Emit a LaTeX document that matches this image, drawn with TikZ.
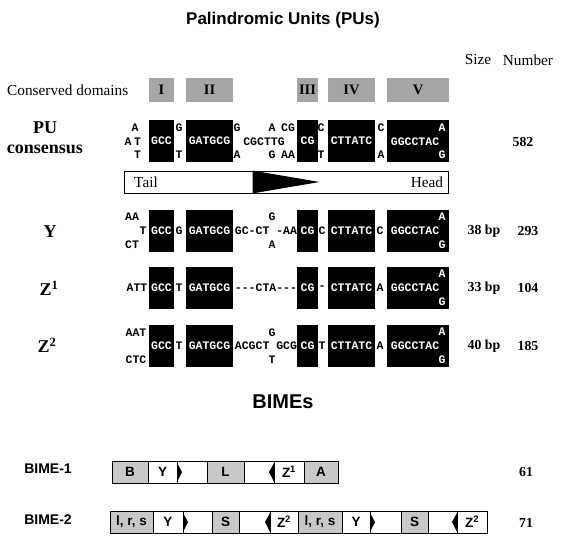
\documentclass[tikz,border=0pt]{standalone}
\usepackage{fontspec}
\setmainfont{Liberation Serif}
\setsansfont{Liberation Sans}
\setmonofont{Liberation Mono}
\usetikzlibrary{positioning}
\definecolor{DomainClr}{RGB}{165,165,165}
\definecolor{BimeClr}{RGB}{200,200,200}
\tikzset{
  seqbox/.style={fill=black, inner sep=0pt, minimum height=42pt, text=white,
    font=\ttfamily\bfseries\fontsize{11.5}{12}\selectfont},
  nt/.style={inner sep=0pt, font=\ttfamily\bfseries\fontsize{11.5}{12}\selectfont},
  ntw/.style={nt, text=white},
  domainbox/.style={fill=DomainClr, inner sep=0pt, minimum height=24pt,
    font=\bfseries\fontsize{14.5}{15}\selectfont},
  rowlabel/.style={inner sep=0pt, font=\bfseries\fontsize{18}{19}\selectfont},
  count/.style={inner sep=0pt, font=\bfseries\fontsize{13.8}{14}\selectfont},
  header/.style={inner sep=0pt, font=\fontsize{15.3}{16}\selectfont},
  heading/.style={inner sep=0pt, font=\sffamily\bfseries\fontsize{17}{18}\selectfont},
  bimelabel/.style={inner sep=0pt, font=\sffamily\bfseries\fontsize{14}{15}\selectfont},
  seg/.style={draw=black, line width=0.9pt, inner sep=0pt, outer sep=0pt,
    minimum height=22pt, font=\sffamily\bfseries\fontsize{13.5}{14}\selectfont},
  grayseg/.style={seg, fill=BimeClr},
  whiteseg/.style={seg, fill=white}
}

\begin{document}
\begin{tikzpicture}[x=1pt,y=-1pt]
\useasboundingbox[fill=white] (0,0) rectangle (562,548);

\node[heading] (title) at (283,20) {Palindromic Units (PUs)};
\node[header] (size) at (478,60) {Size};
\node[header] (number) at (528,60) {Number};

% conserved domains
\node[header, anchor=west] (cons) at (7,90) {Conserved domains};
\node[domainbox, minimum width=25pt] (dI) at (161.5,90) {I};
\node[domainbox, minimum width=47pt] (dII) at (209.5,90) {II};
\node[domainbox, minimum width=21pt] (dIII) at (307.5,90) {III};
\node[domainbox, minimum width=47pt] (dIV) at (351.5,90) {IV};
\node[domainbox, minimum width=62pt] (dV) at (418,90) {V};

% PU consensus
\node[rowlabel] (puA) at (45,128) {PU};
\node[rowlabel] (puB) at (45,149) {consensus};
\node[seqbox, minimum width=25pt] (pu1) at (161.5,141) {GCC};
\node[seqbox, minimum width=47pt] (pu2) at (209.5,141) {GATGCG};
\node[seqbox, minimum width=21pt] (pu3) at (307.5,141) {CG};
\node[seqbox, minimum width=47pt] (pu4) at (351.5,141) {CTTATC};
\node[seqbox, minimum width=62pt] (pu5) at (418,141) {};
\node[nt] (puT1) at (135,128) {A};
\node[nt] (puM1) at (128,142) {A};
\node[nt] (puM2) at (137.5,142) {T};
\node[nt] (puB1) at (137.5,155) {T};
\node[nt] (puT2) at (179,128) {G};
\node[nt] (puB2) at (179,155) {T};
\node[nt] (puT3) at (237,128) {G};
\node[nt] (puM3) at (264,142) {CGCTTG};
\node[nt] (puB3) at (237,155) {A};
\node[nt] (puT4) at (272,128) {A};
\node[nt] (puT5) at (288,128) {CG};
\node[nt] (puB4) at (272,155) {G};
\node[nt] (puB5) at (288,155) {AA};
\node[nt] (puT6) at (321,128) {C};
\node[nt] (puB6) at (321,155) {T};
\node[nt] (puT7) at (381,128) {C};
\node[nt] (puB7) at (381,155) {A};
\node[ntw] (puT8) at (442,128) {A};
\node[ntw] (puM8) at (415,142) {GGCCTAC};
\node[ntw] (puB8) at (442,155) {G};
\node[count] (puN) at (523,142) {582};

% tail / head bar
\node[draw=black, line width=0.8pt, minimum width=324pt, minimum height=22pt,
  inner sep=0pt] (bar) at (286,182) {};
\fill ([xshift=129pt]bar.north west) -- ([xshift=129pt]bar.south west)
  -- ([xshift=196pt]bar.west) -- cycle;
\node[header] (tail) at (146,182) {Tail};
\node[header] (head) at (427,182) {Head};

% Y
\node[rowlabel] (yL) at (50,232) {Y};
\node[seqbox, minimum width=25pt] (y1) at (161.5,231) {GCC};
\node[seqbox, minimum width=47pt] (y2) at (209.5,231) {GATGCG};
\node[seqbox, minimum width=21pt] (y3) at (307.5,231) {CG};
\node[seqbox, minimum width=47pt] (y4) at (351.5,231) {CTTATC};
\node[seqbox, minimum width=62pt] (y5) at (418,231) {};
\node[nt] (yT1) at (132,217) {AA};
\node[nt] (yM1) at (143,231) {T};
\node[nt] (yB1) at (132,245) {CT};
\node[nt] (yM2) at (179,231) {G};
\node[nt] (yT3) at (272,217) {G};
\node[nt] (yM3) at (266,231) {GC-CT -AA};
\node[nt] (yB3) at (272,245) {A};
\node[nt] (yM4) at (322,231) {C};
\node[nt] (yM5) at (380,231) {C};
\node[ntw] (yT6) at (442,217) {A};
\node[ntw] (yM6) at (415,231) {GGCCTAC};
\node[ntw] (yB6) at (442,245) {G};
\node[count] (yS) at (484,231) {38 bp};
\node[count] (yN) at (528,231) {293};

% Z1
\node[rowlabel] (zaL) at (49,288) {Z\textsuperscript{1}};
\node[seqbox, minimum width=25pt] (za1) at (161.5,288) {GCC};
\node[seqbox, minimum width=47pt] (za2) at (209.5,288) {GATGCG};
\node[seqbox, minimum width=21pt] (za3) at (307.5,288) {CG};
\node[seqbox, minimum width=47pt] (za4) at (351.5,288) {CTTATC};
\node[seqbox, minimum width=62pt] (za5) at (418,288) {};
\node[nt] (zaM1) at (137,288) {ATT};
\node[nt] (zaM2) at (179,288) {T};
\node[nt] (zaM3) at (266,288) {---CTA---};
\node[nt] (zaM4) at (322,288) {-};
\node[nt] (zaM5) at (380,288) {A};
\node[ntw] (zaT6) at (442,274) {A};
\node[ntw] (zaM6) at (415,288) {GGCCTAC};
\node[ntw] (zaB6) at (442,302) {G};
\node[count] (zaS) at (484,288) {33 bp};
\node[count] (zaN) at (528,288) {104};

% Z2
\node[rowlabel] (zbL) at (47,345) {Z\textsuperscript{2}};
\node[seqbox, minimum width=25pt] (zb1) at (161.5,346) {GCC};
\node[seqbox, minimum width=47pt] (zb2) at (209.5,346) {GATGCG};
\node[seqbox, minimum width=21pt] (zb3) at (307.5,346) {CG};
\node[seqbox, minimum width=47pt] (zb4) at (351.5,346) {CTTATC};
\node[seqbox, minimum width=62pt] (zb5) at (418,346) {};
\node[nt] (zbT1) at (136,333) {AAT};
\node[nt] (zbB1) at (136,360) {CTC};
\node[nt] (zbM2) at (179,346) {T};
\node[nt] (zbT3) at (272,333) {G};
\node[nt] (zbM3) at (266,346) {ACGCT GCG};
\node[nt] (zbB3) at (272,360) {T};
\node[nt] (zbM4) at (322,346) {T};
\node[nt] (zbM5) at (380,346) {A};
\node[ntw] (zbT6) at (442,332) {A};
\node[ntw] (zbM6) at (415,346) {GGCCTAC};
\node[ntw] (zbB6) at (442,360) {G};
\node[count] (zbS) at (484,346) {40 bp};
\node[count] (zbN) at (528,346) {185};

% BIMEs
\node[heading, font=\sffamily\bfseries\fontsize{20}{21}\selectfont] (bimes) at (283,402) {BIMEs};

% BIME-1
\node[bimelabel] (b1L) at (48,469) {BIME-1};
\node[grayseg, minimum width=36pt, anchor=west] (b1a) at (112,472) {B};
\node[whiteseg, minimum width=29pt, right=0pt of b1a] (b1b) {Y};
\node[whiteseg, minimum width=30pt, right=0pt of b1b] (b1c) {};
\node[grayseg, minimum width=37pt, right=0pt of b1c] (b1d) {L};
\node[whiteseg, minimum width=30pt, right=0pt of b1d] (b1e) {};
\node[whiteseg, minimum width=30pt, right=0pt of b1e] (b1f) {Z\textsuperscript{1}};
\node[grayseg, minimum width=34pt, right=0pt of b1f] (b1g) {A};
\fill ([yshift=-2pt]b1b.north east) -- ([yshift=1pt]b1b.south east)
  -- ([xshift=5pt]b1b.east) -- cycle;
\fill ([yshift=-2pt]b1f.north west) -- ([yshift=1pt]b1f.south west)
  -- ([xshift=-5pt]b1f.west) -- cycle;
\node[count] (b1N) at (526,472) {61};

% BIME-2
\node[bimelabel] (b2L) at (48,520) {BIME-2};
\node[grayseg, minimum width=43pt, anchor=west] (b2a) at (110,522) {l, r, s};
\node[whiteseg, minimum width=30pt, right=0pt of b2a] (b2b) {Y};
\node[whiteseg, minimum width=29pt, right=0pt of b2b] (b2c) {};
\node[grayseg, minimum width=27pt, right=0pt of b2c] (b2d) {S};
\node[whiteseg, minimum width=31pt, right=0pt of b2d] (b2e) {};
\node[whiteseg, minimum width=28pt, right=0pt of b2e] (b2f) {Z\textsuperscript{2}};
\node[grayseg, minimum width=44pt, right=0pt of b2f] (b2g) {l, r, s};
\node[whiteseg, minimum width=28pt, right=0pt of b2g] (b2h) {Y};
\node[whiteseg, minimum width=31pt, right=0pt of b2h] (b2i) {};
\node[grayseg, minimum width=27pt, right=0pt of b2i] (b2j) {S};
\node[whiteseg, minimum width=29pt, right=0pt of b2j] (b2k) {};
\node[whiteseg, minimum width=30pt, right=0pt of b2k] (b2l) {Z\textsuperscript{2}};
\fill ([yshift=-2pt]b2b.north east) -- ([yshift=1pt]b2b.south east)
  -- ([xshift=5pt]b2b.east) -- cycle;
\fill ([yshift=-2pt]b2f.north west) -- ([yshift=1pt]b2f.south west)
  -- ([xshift=-5pt]b2f.west) -- cycle;
\fill ([yshift=-2pt]b2h.north east) -- ([yshift=1pt]b2h.south east)
  -- ([xshift=5pt]b2h.east) -- cycle;
\fill ([yshift=-2pt]b2l.north west) -- ([yshift=1pt]b2l.south west)
  -- ([xshift=-5pt]b2l.west) -- cycle;
\node[count] (b2N) at (526,523) {71};

\end{tikzpicture}
\end{document}
